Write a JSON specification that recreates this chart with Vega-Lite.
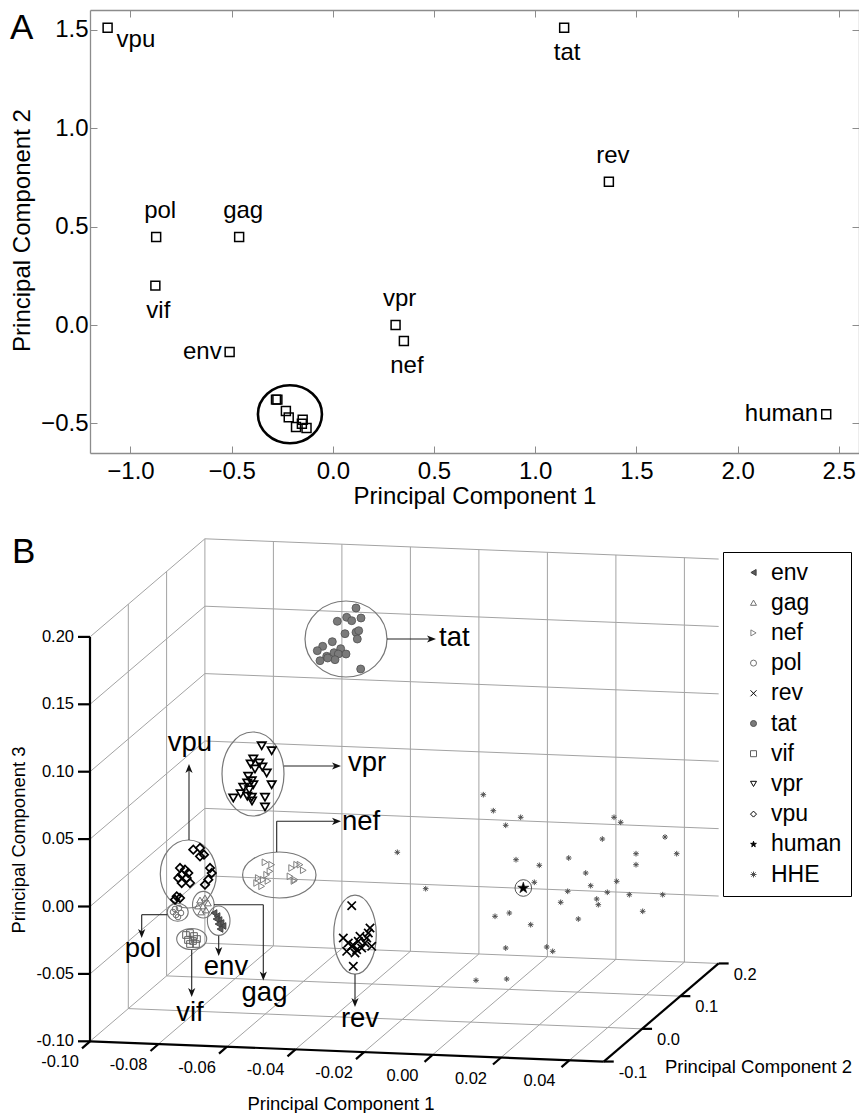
{
  "$schema": "https://vega.github.io/schema/vega-lite/v6.json",
  "padding": {"left": 10, "top": 9, "right": 0, "bottom": 0},
  "spacing": 15,
  "config": {"view": {"stroke": null}, "font": "Liberation Sans"},
  "datasets": {
    "pcaA": [
      {"gene": "vpu", "pc1": -1.113, "pc2": 1.51, "lab": "vpu", "pos": "br"},
      {"gene": "tat", "pc1": 1.143, "pc2": 1.51, "lab": "tat", "pos": "below"},
      {"gene": "rev", "pc1": 1.364, "pc2": 0.728, "lab": "rev", "pos": "above"},
      {"gene": "pol", "pc1": -0.873, "pc2": 0.447, "lab": "pol", "pos": "above"},
      {"gene": "gag", "pc1": -0.463, "pc2": 0.447, "lab": "gag", "pos": "above"},
      {"gene": "vif", "pc1": -0.877, "pc2": 0.2, "lab": "vif", "pos": "below"},
      {"gene": "env", "pc1": -0.51, "pc2": -0.137, "lab": "env", "pos": "left"},
      {"gene": "vpr", "pc1": 0.31, "pc2": 0.0, "lab": "vpr", "pos": "above"},
      {"gene": "nef", "pc1": 0.351, "pc2": -0.081, "lab": "nef", "pos": "below"},
      {"gene": "human", "pc1": 2.438, "pc2": -0.453, "lab": "human", "pos": "left"},
      {"gene": "HHE", "pc1": -0.281, "pc2": -0.379, "lab": "", "pos": "none"},
      {"gene": "HHE", "pc1": -0.274, "pc2": -0.379, "lab": "", "pos": "none"},
      {"gene": "HHE", "pc1": -0.232, "pc2": -0.437, "lab": "", "pos": "none"},
      {"gene": "HHE", "pc1": -0.218, "pc2": -0.469, "lab": "", "pos": "none"},
      {"gene": "HHE", "pc1": -0.182, "pc2": -0.518, "lab": "", "pos": "none"},
      {"gene": "HHE", "pc1": -0.149, "pc2": -0.481, "lab": "", "pos": "none"},
      {"gene": "HHE", "pc1": -0.153, "pc2": -0.501, "lab": "", "pos": "none"},
      {"gene": "HHE", "pc1": -0.13, "pc2": -0.523, "lab": "", "pos": "none"}
    ],
    "clusterA": [{"pc1": -0.212, "pc2": -0.453}],
    "panelA": [{"pc1": -1.595, "pc2": 1.453, "txt": "A"}],
    "gridB": [
      {"u": 204.9, "v": 940.2, "u2": 204.9, "v2": 535.8},
      {"u": 273.4, "v": 942.9, "u2": 273.4, "v2": 538.5},
      {"u": 341.9, "v": 945.6, "u2": 341.9, "v2": 541.2},
      {"u": 410.4, "v": 948.3, "u2": 410.4, "v2": 543.9},
      {"u": 478.9, "v": 951.0, "u2": 478.9, "v2": 546.6},
      {"u": 547.4, "v": 953.7, "u2": 547.4, "v2": 549.3},
      {"u": 615.9, "v": 956.4, "u2": 615.9, "v2": 552.0},
      {"u": 684.4, "v": 959.1, "u2": 684.4, "v2": 554.7},
      {"u": 204.9, "v": 940.2, "u2": 718.65, "v2": 960.45},
      {"u": 204.9, "v": 872.8, "u2": 718.65, "v2": 893.05},
      {"u": 204.9, "v": 805.4, "u2": 718.65, "v2": 825.65},
      {"u": 204.9, "v": 738.0, "u2": 718.65, "v2": 758.25},
      {"u": 204.9, "v": 670.6, "u2": 718.65, "v2": 690.85},
      {"u": 204.9, "v": 603.2, "u2": 718.65, "v2": 623.45},
      {"u": 204.9, "v": 535.8, "u2": 718.65, "v2": 556.05},
      {"u": 128.3, "v": 1005.6, "u2": 128.3, "v2": 601.2},
      {"u": 166.6, "v": 972.9, "u2": 166.6, "v2": 568.5},
      {"u": 90, "v": 1038.3, "u2": 204.9, "v2": 940.2},
      {"u": 90, "v": 970.9, "u2": 204.9, "v2": 872.8},
      {"u": 90, "v": 903.5, "u2": 204.9, "v2": 805.4},
      {"u": 90, "v": 836.1, "u2": 204.9, "v2": 738.0},
      {"u": 90, "v": 768.7, "u2": 204.9, "v2": 670.6},
      {"u": 90, "v": 701.3, "u2": 204.9, "v2": 603.2},
      {"u": 90, "v": 633.9, "u2": 204.9, "v2": 535.8},
      {"u": 128.3, "v": 1005.6, "u2": 642.05, "v2": 1025.85},
      {"u": 166.6, "v": 972.9, "u2": 680.35, "v2": 993.15},
      {"u": 158.5, "v": 1041.0, "u2": 273.4, "v2": 942.9},
      {"u": 227.0, "v": 1043.7, "u2": 341.9, "v2": 945.6},
      {"u": 295.5, "v": 1046.4, "u2": 410.4, "v2": 948.3},
      {"u": 364.0, "v": 1049.1, "u2": 478.9, "v2": 951.0},
      {"u": 432.5, "v": 1051.8, "u2": 547.4, "v2": 953.7},
      {"u": 501.0, "v": 1054.5, "u2": 615.9, "v2": 956.4},
      {"u": 569.5, "v": 1057.2, "u2": 684.4, "v2": 959.1}
    ],
    "axesB": [
      {"u": 90, "v": 1038.3, "u2": 90, "v2": 633.9},
      {"u": 90, "v": 1038.3, "u2": 603.75, "v2": 1058.55},
      {"u": 603.75, "v": 1058.55, "u2": 718.65, "v2": 960.45},
      {"u": 78, "v": 1038.3, "u2": 90, "v2": 1038.3},
      {"u": 78, "v": 970.9, "u2": 90, "v2": 970.9},
      {"u": 78, "v": 903.5, "u2": 90, "v2": 903.5},
      {"u": 78, "v": 836.1, "u2": 90, "v2": 836.1},
      {"u": 78, "v": 768.7, "u2": 90, "v2": 768.7},
      {"u": 78, "v": 701.3, "u2": 90, "v2": 701.3},
      {"u": 78, "v": 633.9, "u2": 90, "v2": 633.9},
      {"u": 90, "v": 1038.3, "u2": 82, "v2": 1045.3},
      {"u": 158.5, "v": 1041.0, "u2": 150.5, "v2": 1048.0},
      {"u": 227.0, "v": 1043.7, "u2": 219.0, "v2": 1050.7},
      {"u": 295.5, "v": 1046.4, "u2": 287.5, "v2": 1053.4},
      {"u": 364.0, "v": 1049.1, "u2": 356.0, "v2": 1056.1},
      {"u": 432.5, "v": 1051.8, "u2": 424.5, "v2": 1058.8},
      {"u": 501.0, "v": 1054.5, "u2": 493.0, "v2": 1061.5},
      {"u": 569.5, "v": 1057.2, "u2": 561.5, "v2": 1064.2},
      {"u": 603.75, "v": 1058.55, "u2": 613.75, "v2": 1058.55},
      {"u": 642.05, "v": 1025.85, "u2": 652.05, "v2": 1025.85},
      {"u": 680.35, "v": 993.15, "u2": 690.35, "v2": 993.15},
      {"u": 718.65, "v": 960.45, "u2": 728.65, "v2": 960.45}
    ],
    "textB": [
      {"role": "tick3", "u": 74, "v": 633.9, "txt": "0.20"},
      {"role": "tick3", "u": 74, "v": 701.3, "txt": "0.15"},
      {"role": "tick3", "u": 74, "v": 768.7, "txt": "0.10"},
      {"role": "tick3", "u": 74, "v": 836.1, "txt": "0.05"},
      {"role": "tick3", "u": 74, "v": 903.5, "txt": "0.00"},
      {"role": "tick3", "u": 74, "v": 970.9, "txt": "-0.05"},
      {"role": "tick3", "u": 74, "v": 1038.3, "txt": "-0.10"},
      {"role": "tick1", "u": 60, "v": 1059, "txt": "-0.10"},
      {"role": "tick1", "u": 128.5, "v": 1062, "txt": "-0.08"},
      {"role": "tick1", "u": 197, "v": 1064.7, "txt": "-0.06"},
      {"role": "tick1", "u": 265.5, "v": 1067.4, "txt": "-0.04"},
      {"role": "tick1", "u": 334, "v": 1070, "txt": "-0.02"},
      {"role": "tick1", "u": 402.5, "v": 1072.8, "txt": "0.00"},
      {"role": "tick1", "u": 471, "v": 1075.5, "txt": "0.02"},
      {"role": "tick1", "u": 539.5, "v": 1078.2, "txt": "0.04"},
      {"role": "tick2", "u": 618.75, "v": 1069.5, "txt": "-0.1"},
      {"role": "tick2", "u": 657, "v": 1037, "txt": "0.0"},
      {"role": "tick2", "u": 695.35, "v": 1004, "txt": "0.1"},
      {"role": "tick2", "u": 733.65, "v": 971.5, "txt": "0.2"},
      {"role": "labL", "u": 439, "v": 635, "txt": "tat"},
      {"role": "labL", "u": 348, "v": 760, "txt": "vpr"},
      {"role": "labL", "u": 342, "v": 819, "txt": "nef"},
      {"role": "labC", "u": 190, "v": 740, "txt": "vpu"},
      {"role": "labC", "u": 143, "v": 945.5, "txt": "pol"},
      {"role": "labC", "u": 264.5, "v": 989.5, "txt": "gag"},
      {"role": "labC", "u": 226, "v": 964, "txt": "env"},
      {"role": "labC", "u": 190, "v": 1010, "txt": "vif"},
      {"role": "labC", "u": 360, "v": 1015.6, "txt": "rev"},
      {"role": "titleC", "u": 341, "v": 1101, "txt": "Principal Component 1"},
      {"role": "titleL", "u": 665, "v": 1064, "txt": "Principal Component 2"},
      {"role": "titleR", "u": 19, "v": 837, "txt": "Principal Component 3"},
      {"role": "panel", "u": 12, "v": 560, "txt": "B"}
    ],
    "ellipsesB": [
      {"grp": "tat", "u": 346, "v": 636},
      {"grp": "vpr", "u": 253, "v": 771},
      {"grp": "vpu", "u": 188.3, "v": 871},
      {"grp": "nef", "u": 279.3, "v": 872},
      {"grp": "pol", "u": 177.7, "v": 909.3},
      {"grp": "gag", "u": 203.3, "v": 901.7},
      {"grp": "env", "u": 218.7, "v": 917.7},
      {"grp": "vif", "u": 191.7, "v": 936},
      {"grp": "rev", "u": 355, "v": 931.7},
      {"grp": "human", "u": 523.3, "v": 885}
    ],
    "arrowsB": [
      {"u": 387, "v": 636, "u2": 433, "v2": 636},
      {"u": 284, "v": 763, "u2": 336, "v2": 763},
      {"u": 276.7, "v": 849, "u2": 276.7, "v2": 818.3},
      {"u": 276.7, "v": 818.3, "u2": 336, "v2": 818.3},
      {"u": 189, "v": 837, "u2": 189, "v2": 766},
      {"u": 167.3, "v": 911.7, "u2": 141.7, "v2": 911.7},
      {"u": 141.7, "v": 911.7, "u2": 141.7, "v2": 931},
      {"u": 214, "v": 901.7, "u2": 263.3, "v2": 901.7},
      {"u": 263.3, "v": 901.7, "u2": 263.3, "v2": 973},
      {"u": 218.7, "v": 932.7, "u2": 218.7, "v2": 949},
      {"u": 191.7, "v": 946.7, "u2": 191.7, "v2": 990},
      {"u": 355, "v": 971.2, "u2": 355, "v2": 1000}
    ],
    "headsB": [
      {"u": 436, "v": 636, "dir": "right"},
      {"u": 341, "v": 763, "dir": "right"},
      {"u": 341, "v": 818.3, "dir": "right"},
      {"u": 189, "v": 761, "dir": "up"},
      {"u": 141.7, "v": 935, "dir": "down"},
      {"u": 263.3, "v": 977.5, "dir": "down"},
      {"u": 218.7, "v": 953, "dir": "down"},
      {"u": 191.7, "v": 994, "dir": "down"},
      {"u": 355, "v": 1004, "dir": "down"}
    ],
    "pointsB": [
      {"type": "tat", "u": 356, "v": 605}, {"type": "tat", "u": 346.7, "v": 614.3}, {"type": "tat", "u": 351.7, "v": 617.7},
      {"type": "tat", "u": 361, "v": 615}, {"type": "tat", "u": 337.3, "v": 618.3}, {"type": "tat", "u": 345, "v": 630.7},
      {"type": "tat", "u": 356, "v": 629.3}, {"type": "tat", "u": 358.7, "v": 627.7}, {"type": "tat", "u": 357.3, "v": 636},
      {"type": "tat", "u": 332.3, "v": 638.7}, {"type": "tat", "u": 322.7, "v": 643.3}, {"type": "tat", "u": 317.3, "v": 647.7},
      {"type": "tat", "u": 340.7, "v": 645.7}, {"type": "tat", "u": 334, "v": 649.7}, {"type": "tat", "u": 338.3, "v": 651},
      {"type": "tat", "u": 346, "v": 651}, {"type": "tat", "u": 326.7, "v": 653.3}, {"type": "tat", "u": 320, "v": 657.7},
      {"type": "tat", "u": 335, "v": 656.7}, {"type": "tat", "u": 327.7, "v": 655}, {"type": "tat", "u": 360.7, "v": 666},
      {"type": "vpr", "u": 261.7, "v": 742.7}, {"type": "vpr", "u": 271.7, "v": 747.7}, {"type": "vpr", "u": 253.3, "v": 756},
      {"type": "vpr", "u": 259.3, "v": 760}, {"type": "vpr", "u": 250.7, "v": 761}, {"type": "vpr", "u": 262.3, "v": 764},
      {"type": "vpr", "u": 255, "v": 766}, {"type": "vpr", "u": 266.7, "v": 770}, {"type": "vpr", "u": 248.3, "v": 773.3},
      {"type": "vpr", "u": 251.7, "v": 777.7}, {"type": "vpr", "u": 247.3, "v": 780}, {"type": "vpr", "u": 253.3, "v": 781.7},
      {"type": "vpr", "u": 271.7, "v": 781.7}, {"type": "vpr", "u": 243.3, "v": 784.3}, {"type": "vpr", "u": 249.3, "v": 786.7},
      {"type": "vpr", "u": 240.7, "v": 790.7}, {"type": "vpr", "u": 247.3, "v": 793.3}, {"type": "vpr", "u": 233.3, "v": 795},
      {"type": "vpr", "u": 251.7, "v": 794.3}, {"type": "vpr", "u": 265, "v": 794.3}, {"type": "vpr", "u": 265, "v": 804},
      {"type": "vpr", "u": 252, "v": 798},
      {"type": "vpu", "u": 193.3, "v": 846.7}, {"type": "vpu", "u": 200, "v": 845}, {"type": "vpu", "u": 204, "v": 851.7},
      {"type": "vpu", "u": 200, "v": 853.3}, {"type": "vpu", "u": 180, "v": 865}, {"type": "vpu", "u": 185, "v": 866.7},
      {"type": "vpu", "u": 188.3, "v": 870}, {"type": "vpu", "u": 181.7, "v": 871.7}, {"type": "vpu", "u": 178.3, "v": 875},
      {"type": "vpu", "u": 186.7, "v": 875}, {"type": "vpu", "u": 190, "v": 880}, {"type": "vpu", "u": 181.7, "v": 880},
      {"type": "vpu", "u": 210, "v": 865}, {"type": "vpu", "u": 211.7, "v": 870}, {"type": "vpu", "u": 208.3, "v": 876.7},
      {"type": "vpu", "u": 205, "v": 881.7}, {"type": "vpu", "u": 176.7, "v": 893.3}, {"type": "vpu", "u": 180, "v": 895},
      {"type": "vpu", "u": 175, "v": 896.7},
      {"type": "nef", "u": 265, "v": 859.3}, {"type": "nef", "u": 271.7, "v": 861.7}, {"type": "nef", "u": 258.3, "v": 875},
      {"type": "nef", "u": 263.3, "v": 876.7}, {"type": "nef", "u": 266.7, "v": 871.7}, {"type": "nef", "u": 270, "v": 868.3},
      {"type": "nef", "u": 256.7, "v": 880}, {"type": "nef", "u": 261.7, "v": 883.3}, {"type": "nef", "u": 291.7, "v": 865},
      {"type": "nef", "u": 290, "v": 873.3}, {"type": "nef", "u": 295, "v": 876.7}, {"type": "nef", "u": 296.7, "v": 861.7},
      {"type": "nef", "u": 300, "v": 861.7}, {"type": "nef", "u": 303.3, "v": 867.3}, {"type": "nef", "u": 294, "v": 878},
      {"type": "nef", "u": 268, "v": 878},
      {"type": "pol", "u": 175, "v": 906}, {"type": "pol", "u": 179, "v": 905}, {"type": "pol", "u": 181, "v": 910},
      {"type": "pol", "u": 176, "v": 912}, {"type": "pol", "u": 178, "v": 914}, {"type": "pol", "u": 173, "v": 909},
      {"type": "gag", "u": 200, "v": 897}, {"type": "gag", "u": 205, "v": 895}, {"type": "gag", "u": 203, "v": 903},
      {"type": "gag", "u": 208, "v": 900}, {"type": "gag", "u": 198, "v": 903}, {"type": "gag", "u": 206, "v": 907},
      {"type": "gag", "u": 201, "v": 909},
      {"type": "env", "u": 214, "v": 910}, {"type": "env", "u": 217, "v": 913}, {"type": "env", "u": 219, "v": 917},
      {"type": "env", "u": 221, "v": 920}, {"type": "env", "u": 223, "v": 923}, {"type": "env", "u": 218, "v": 921},
      {"type": "env", "u": 220, "v": 926}, {"type": "env", "u": 216, "v": 916},
      {"type": "vif", "u": 186, "v": 932}, {"type": "vif", "u": 190, "v": 930}, {"type": "vif", "u": 194, "v": 933},
      {"type": "vif", "u": 188, "v": 937}, {"type": "vif", "u": 193, "v": 938}, {"type": "vif", "u": 197, "v": 936},
      {"type": "vif", "u": 190, "v": 941}, {"type": "vif", "u": 196, "v": 941},
      {"type": "rev", "u": 351.7, "v": 902.7}, {"type": "rev", "u": 353.3, "v": 963.3}, {"type": "rev", "u": 370, "v": 925},
      {"type": "rev", "u": 343.3, "v": 935}, {"type": "rev", "u": 348.3, "v": 940}, {"type": "rev", "u": 360, "v": 933.3},
      {"type": "rev", "u": 366.7, "v": 935}, {"type": "rev", "u": 371.7, "v": 943.3}, {"type": "rev", "u": 346.7, "v": 948.3},
      {"type": "rev", "u": 355, "v": 950}, {"type": "rev", "u": 361.7, "v": 945}, {"type": "rev", "u": 358.3, "v": 938.3},
      {"type": "rev", "u": 351.7, "v": 943.3}, {"type": "rev", "u": 365, "v": 940}, {"type": "rev", "u": 356.7, "v": 946.7},
      {"type": "rev", "u": 368.3, "v": 930}, {"type": "rev", "u": 353, "v": 942},
      {"type": "human", "u": 523.3, "v": 885},
      {"type": "HHE", "u": 483.3, "v": 791.7}, {"type": "HHE", "u": 493.3, "v": 807.7}, {"type": "HHE", "u": 520.7, "v": 814.3},
      {"type": "HHE", "u": 505.7, "v": 822.3}, {"type": "HHE", "u": 397.3, "v": 849.3}, {"type": "HHE", "u": 516, "v": 856.7},
      {"type": "HHE", "u": 539.3, "v": 862.3}, {"type": "HHE", "u": 568.7, "v": 855}, {"type": "HHE", "u": 425.7, "v": 885.7},
      {"type": "HHE", "u": 534.3, "v": 879.3}, {"type": "HHE", "u": 567.7, "v": 888.3}, {"type": "HHE", "u": 560.7, "v": 899.3},
      {"type": "HHE", "u": 495, "v": 913.3}, {"type": "HHE", "u": 509.3, "v": 910}, {"type": "HHE", "u": 530.7, "v": 921.7},
      {"type": "HHE", "u": 578.3, "v": 916}, {"type": "HHE", "u": 505.7, "v": 945}, {"type": "HHE", "u": 546.7, "v": 944},
      {"type": "HHE", "u": 552.7, "v": 948.3}, {"type": "HHE", "u": 476, "v": 977.3}, {"type": "HHE", "u": 506.7, "v": 976},
      {"type": "HHE", "u": 614, "v": 814.3}, {"type": "HHE", "u": 620.7, "v": 819.3}, {"type": "HHE", "u": 602.3, "v": 836},
      {"type": "HHE", "u": 665, "v": 834}, {"type": "HHE", "u": 636, "v": 850.7}, {"type": "HHE", "u": 676.7, "v": 850.7},
      {"type": "HHE", "u": 636, "v": 861.7}, {"type": "HHE", "u": 585.7, "v": 870}, {"type": "HHE", "u": 590.7, "v": 882.7},
      {"type": "HHE", "u": 616.7, "v": 878.3}, {"type": "HHE", "u": 607.3, "v": 889.3}, {"type": "HHE", "u": 629.3, "v": 891.7},
      {"type": "HHE", "u": 662.7, "v": 891.7}, {"type": "HHE", "u": 596.7, "v": 896}, {"type": "HHE", "u": 598.3, "v": 901.7},
      {"type": "HHE", "u": 642.7, "v": 908.3}
    ]
  },
  "vconcat": [
    {
      "width": 769,
      "height": 443,
      "layer": [
        {
          "data": {"name": "clusterA"},
          "mark": {"type": "point", "shape": "M-1,0C-1,-0.5 -0.552,-0.906 0,-0.906C0.552,-0.906 1,-0.5 1,0C1,0.5 0.552,0.906 0,0.906C-0.552,0.906 -1,0.5 -1,0Z", "size": 4096, "filled": false, "stroke": "#000", "strokeWidth": 2.6, "opacity": 1},
          "encoding": {
            "x": {"field": "pc1", "type": "quantitative", "scale": {"domain": [-1.2, 2.6], "nice": false, "zero": false}, "axis": null},
            "y": {"field": "pc2", "type": "quantitative", "scale": {"domain": [-0.65, 1.6], "nice": false, "zero": false}, "axis": null}
          }
        },
        {
          "data": {"name": "pcaA"},
          "mark": {"type": "point", "shape": "square", "size": 80, "filled": false, "stroke": "#000", "strokeWidth": 1.5, "opacity": 1},
          "encoding": {
            "x": {"field": "pc1", "type": "quantitative", "scale": {"domain": [-1.2, 2.6], "nice": false, "zero": false},
              "axis": {"orient": "bottom", "values": [-1, -0.5, 0, 0.5, 1, 1.5, 2, 2.5], "format": ".1f", "tickSize": -7, "tickColor": "#8c8c8c", "domainColor": "#8c8c8c", "domainWidth": 1.3, "labelFontSize": 24, "labelColor": "#000", "labelPadding": 13, "labelOverlap": false, "labelFlush": false, "grid": false, "title": "Principal Component 1", "titleFontSize": 24, "titleFontWeight": "normal", "titleColor": "#000", "titleBaseline": "top", "titleY": 31}},
            "y": {"field": "pc2", "type": "quantitative", "scale": {"domain": [-0.65, 1.6], "nice": false, "zero": false},
              "axis": {"orient": "left", "values": [-0.5, 0, 0.5, 1, 1.5], "format": ".1f", "tickSize": -7, "tickColor": "#8c8c8c", "domainColor": "#8c8c8c", "domainWidth": 1.3, "labelFontSize": 24, "labelColor": "#000", "labelPadding": 9, "labelOverlap": false, "labelFlush": false, "grid": false, "title": "Principal Component 2", "titleFontSize": 24, "titleFontWeight": "normal", "titleColor": "#000", "titleAngle": 270, "titleBaseline": "middle", "titleAlign": "center", "titleX": -68, "titleY": 220}}
          }
        },
        {
          "data": {"name": "pcaA"},
          "transform": [{"filter": "datum.pos === 'above'"}],
          "mark": {"type": "text", "fontSize": 24, "color": "#000", "align": "center", "baseline": "middle", "dx": 4, "dy": -26},
          "encoding": {
            "x": {"field": "pc1", "type": "quantitative", "scale": {"domain": [-1.2, 2.6], "nice": false, "zero": false}, "axis": null},
            "y": {"field": "pc2", "type": "quantitative", "scale": {"domain": [-0.65, 1.6], "nice": false, "zero": false}, "axis": null},
            "text": {"field": "lab"}
          }
        },
        {
          "data": {"name": "pcaA"},
          "transform": [{"filter": "datum.pos === 'below'"}],
          "mark": {"type": "text", "fontSize": 24, "color": "#000", "align": "center", "baseline": "middle", "dx": 3, "dy": 25},
          "encoding": {
            "x": {"field": "pc1", "type": "quantitative", "scale": {"domain": [-1.2, 2.6], "nice": false, "zero": false}, "axis": null},
            "y": {"field": "pc2", "type": "quantitative", "scale": {"domain": [-0.65, 1.6], "nice": false, "zero": false}, "axis": null},
            "text": {"field": "lab"}
          }
        },
        {
          "data": {"name": "pcaA"},
          "transform": [{"filter": "datum.pos === 'left'"}],
          "mark": {"type": "text", "fontSize": 24, "color": "#000", "align": "right", "baseline": "middle", "dx": -8, "dy": 0},
          "encoding": {
            "x": {"field": "pc1", "type": "quantitative", "scale": {"domain": [-1.2, 2.6], "nice": false, "zero": false}, "axis": null},
            "y": {"field": "pc2", "type": "quantitative", "scale": {"domain": [-0.65, 1.6], "nice": false, "zero": false}, "axis": null},
            "text": {"field": "lab"}
          }
        },
        {
          "data": {"name": "pcaA"},
          "transform": [{"filter": "datum.pos === 'br'"}],
          "mark": {"type": "text", "fontSize": 24, "color": "#000", "align": "left", "baseline": "middle", "dx": 9, "dy": 12},
          "encoding": {
            "x": {"field": "pc1", "type": "quantitative", "scale": {"domain": [-1.2, 2.6], "nice": false, "zero": false}, "axis": null},
            "y": {"field": "pc2", "type": "quantitative", "scale": {"domain": [-0.65, 1.6], "nice": false, "zero": false}, "axis": null},
            "text": {"field": "lab"}
          }
        },
        {
          "data": {"name": "panelA"},
          "mark": {"type": "text", "fontSize": 35, "color": "#000", "align": "left", "baseline": "alphabetic"},
          "encoding": {
            "x": {"field": "pc1", "type": "quantitative", "scale": {"domain": [-1.2, 2.6], "nice": false, "zero": false},
              "axis": {"orient": "top", "values": [-1, -0.5, 0, 0.5, 1, 1.5, 2, 2.5], "labels": false, "tickSize": -7, "tickColor": "#8c8c8c", "domainColor": "#8c8c8c", "domainWidth": 1.3, "grid": false, "title": null}},
            "y": {"field": "pc2", "type": "quantitative", "scale": {"domain": [-0.65, 1.6], "nice": false, "zero": false},
              "axis": {"orient": "right", "values": [-0.5, 0, 0.5, 1, 1.5], "labels": false, "tickSize": -7, "tickColor": "#8c8c8c", "domainColor": "#8c8c8c", "domainWidth": 1.3, "grid": false, "title": null}},
            "text": {"field": "txt"}
          }
        }
      ],
      "resolve": {"axis": {"x": "independent", "y": "independent"}}
    },
    {
      "width": 769,
      "height": 593,
      "encoding": {
        "x": {"field": "u", "type": "quantitative", "scale": {"domain": [90, 859], "nice": false, "zero": false}, "axis": null},
        "y": {"field": "v", "type": "quantitative", "scale": {"domain": [520, 1113], "nice": false, "zero": false, "reverse": true}, "axis": null}
      },
      "layer": [
        {"data": {"name": "gridB"}, "mark": {"type": "rule", "color": "#a3a3a3", "strokeWidth": 1}, "encoding": {"x2": {"field": "u2"}, "y2": {"field": "v2"}}},
        {"data": {"name": "axesB"}, "mark": {"type": "rule", "color": "#000", "strokeWidth": 2.2}, "encoding": {"x2": {"field": "u2"}, "y2": {"field": "v2"}}},
        {"data": {"name": "ellipsesB"}, "transform": [{"filter": "datum.grp === 'tat'"}], "mark": {"type": "point", "opacity": 1, "filled": false, "stroke": "#777", "strokeWidth": 1.2, "size": 6724, "shape": "M-1,0C-1,-0.512 -0.552,-0.927 0,-0.927C0.552,-0.927 1,-0.512 1,0C1,0.512 0.552,0.927 0,0.927C-0.552,0.927 -1,0.512 -1,0Z"}},
        {"data": {"name": "ellipsesB"}, "transform": [{"filter": "datum.grp === 'vpr'"}], "mark": {"type": "point", "opacity": 1, "filled": false, "stroke": "#777", "strokeWidth": 1.2, "size": 7056, "shape": "M0,-1C0.408,-1 0.738,-0.552 0.738,0C0.738,0.552 0.408,1 0,1C-0.408,1 -0.738,0.552 -0.738,0C-0.738,-0.552 -0.408,-1 0,-1Z"}},
        {"data": {"name": "ellipsesB"}, "transform": [{"filter": "datum.grp === 'vpu'"}], "mark": {"type": "point", "opacity": 1, "filled": false, "stroke": "#777", "strokeWidth": 1.2, "size": 4624, "shape": "M0,-1C0.455,-1 0.824,-0.552 0.824,0C0.824,0.552 0.455,1 0,1C-0.455,1 -0.824,0.552 -0.824,0C-0.824,-0.552 -0.455,-1 0,-1Z"}},
        {"data": {"name": "ellipsesB"}, "transform": [{"filter": "datum.grp === 'nef'"}], "mark": {"type": "point", "opacity": 1, "filled": false, "stroke": "#777", "strokeWidth": 1.2, "size": 5388, "shape": "M-1,0C-1,-0.346 -0.552,-0.627 0,-0.627C0.552,-0.627 1,-0.346 1,0C1,0.346 0.552,0.627 0,0.627C-0.552,0.627 -1,0.346 -1,0Z"}},
        {"data": {"name": "ellipsesB"}, "transform": [{"filter": "datum.grp === 'pol'"}], "mark": {"type": "point", "opacity": 1, "filled": false, "stroke": "#777", "strokeWidth": 1.1, "size": 441, "shape": "M-1,0C-1,-0.473 -0.552,-0.857 0,-0.857C0.552,-0.857 1,-0.473 1,0C1,0.473 0.552,0.857 0,0.857C-0.552,0.857 -1,0.473 -1,0Z"}},
        {"data": {"name": "ellipsesB"}, "transform": [{"filter": "datum.grp === 'gag'"}], "mark": {"type": "point", "opacity": 1, "filled": false, "stroke": "#777", "strokeWidth": 1.1, "size": 708, "shape": "M0,-1C0.448,-1 0.812,-0.552 0.812,0C0.812,0.552 0.448,1 0,1C-0.448,1 -0.812,0.552 -0.812,0C-0.812,-0.552 -0.448,-1 0,-1Z"}},
        {"data": {"name": "ellipsesB"}, "transform": [{"filter": "datum.grp === 'env'"}], "mark": {"type": "point", "opacity": 1, "filled": false, "stroke": "#777", "strokeWidth": 1.1, "size": 864, "shape": "M0,-1C0.425,-1 0.769,-0.552 0.769,0C0.769,0.552 0.425,1 0,1C-0.425,1 -0.769,0.552 -0.769,0C-0.769,-0.552 -0.425,-1 0,-1Z"}},
        {"data": {"name": "ellipsesB"}, "transform": [{"filter": "datum.grp === 'vif'"}], "mark": {"type": "point", "opacity": 1, "filled": false, "stroke": "#777", "strokeWidth": 1.1, "size": 900, "shape": "M-1,0C-1,-0.387 -0.552,-0.7 0,-0.7C0.552,-0.7 1,-0.387 1,0C1,0.387 0.552,0.7 0,0.7C-0.552,0.7 -1,0.387 -1,0Z"}},
        {"data": {"name": "ellipsesB"}, "transform": [{"filter": "datum.grp === 'rev'"}], "mark": {"type": "point", "opacity": 1, "filled": false, "stroke": "#777", "strokeWidth": 1.2, "size": 6241, "shape": "M0,-1C0.298,-1 0.539,-0.552 0.539,0C0.539,0.552 0.298,1 0,1C-0.298,1 -0.539,0.552 -0.539,0C-0.539,-0.552 -0.298,-1 0,-1Z"}},
        {"data": {"name": "ellipsesB"}, "transform": [{"filter": "datum.grp === 'human'"}], "mark": {"type": "point", "opacity": 1, "filled": false, "stroke": "#555", "strokeWidth": 1, "size": 276, "shape": "circle"}},
        {"data": {"name": "arrowsB"}, "mark": {"type": "rule", "color": "#222", "strokeWidth": 1.1}, "encoding": {"x2": {"field": "u2"}, "y2": {"field": "v2"}}},
        {"data": {"name": "headsB"}, "transform": [{"filter": "datum.dir === 'up'"}], "mark": {"type": "point", "opacity": 1, "filled": true, "color": "#111", "size": 144, "angle": 0, "shape": "M0,0L-0.6,1.5L0,1.1L0.6,1.5Z"}},
        {"data": {"name": "headsB"}, "transform": [{"filter": "datum.dir === 'right'"}], "mark": {"type": "point", "opacity": 1, "filled": true, "color": "#111", "size": 144, "angle": 90, "shape": "M0,0L-0.6,1.5L0,1.1L0.6,1.5Z"}},
        {"data": {"name": "headsB"}, "transform": [{"filter": "datum.dir === 'down'"}], "mark": {"type": "point", "opacity": 1, "filled": true, "color": "#111", "size": 144, "angle": 180, "shape": "M0,0L-0.6,1.5L0,1.1L0.6,1.5Z"}},
        {
          "data": {"name": "pointsB"},
          "encoding": {
            "shape": {"field": "type", "type": "nominal",
              "scale": {"domain": ["env", "gag", "nef", "pol", "rev", "tat", "vif", "vpr", "vpu", "human", "HHE"],
                "range": ["triangle-left", "triangle-up", "triangle-right", "circle", "M-1,-1L1,1M-1,1L1,-1", "circle", "square", "triangle-down", "diamond", "M0,-1L0.224,-0.307L0.951,-0.309L0.361,0.117L0.588,0.809L0,0.38L-0.588,0.809L-0.361,0.117L-0.951,-0.309L-0.224,-0.307Z", "M-1,0L1,0M0,-1L0,1M-0.7,-0.7L0.7,0.7M-0.7,0.7L0.7,-0.7"]},
              "legend": {"title": null, "orient": "none", "legendX": 633, "legendY": 542, "labelFontSize": 23, "labelFont": "Liberation Sans", "labelColor": "#000", "rowPadding": 6.2, "padding": 9, "symbolOffset": 10, "labelOffset": 6, "strokeColor": "#000", "fillColor": "#fff", "symbolSize": 36, "symbolStrokeWidth": 1, "encode": {"legend": {"update": {"strokeWidth": {"value": 2}}}}}},
            "fill": {"field": "type", "type": "nominal",
              "scale": {"domain": ["env", "gag", "nef", "pol", "rev", "tat", "vif", "vpr", "vpu", "human", "HHE"],
                "range": ["#5a5a5a", "transparent", "transparent", "transparent", "transparent", "#7a7a7a", "transparent", "transparent", "transparent", "#000000", "transparent"]},
              "legend": {"title": null, "orient": "none", "legendX": 633, "legendY": 542, "labelFontSize": 23, "labelFont": "Liberation Sans", "labelColor": "#000", "rowPadding": 6.2, "padding": 9, "symbolOffset": 10, "labelOffset": 6, "strokeColor": "#000", "fillColor": "#fff", "symbolSize": 36, "symbolStrokeWidth": 1, "encode": {"legend": {"update": {"strokeWidth": {"value": 2}}}}}},
            "stroke": {"field": "type", "type": "nominal",
              "scale": {"domain": ["env", "gag", "nef", "pol", "rev", "tat", "vif", "vpr", "vpu", "human", "HHE"],
                "range": ["#404040", "#707070", "#808080", "#707070", "#000000", "#505050", "#606060", "#000000", "#000000", "#000000", "#505050"]},
              "legend": {"title": null, "orient": "none", "legendX": 633, "legendY": 542, "labelFontSize": 23, "labelFont": "Liberation Sans", "labelColor": "#000", "rowPadding": 6.2, "padding": 9, "symbolOffset": 10, "labelOffset": 6, "strokeColor": "#000", "fillColor": "#fff", "symbolSize": 36, "symbolStrokeWidth": 1, "encode": {"legend": {"update": {"strokeWidth": {"value": 2}}}}}}
          },
          "layer": [
            {"transform": [{"filter": {"field": "type", "oneOf": ["HHE", "pol"]}}], "mark": {"type": "point", "opacity": 1, "size": 32, "strokeWidth": 1}},
            {"transform": [{"filter": {"field": "type", "oneOf": ["nef", "gag", "env", "vif"]}}], "mark": {"type": "point", "opacity": 1, "size": 44, "strokeWidth": 1}},
            {"transform": [{"filter": {"field": "type", "equal": "tat"}}], "mark": {"type": "point", "opacity": 1, "size": 64, "strokeWidth": 0.8}},
            {"transform": [{"filter": {"field": "type", "oneOf": ["vpr", "vpu", "rev"]}}], "mark": {"type": "point", "opacity": 1, "size": 70, "strokeWidth": 1.7}},
            {"transform": [{"filter": {"field": "type", "equal": "human"}}], "mark": {"type": "point", "opacity": 1, "size": 140, "strokeWidth": 0.5}}
          ]
        },
        {"data": {"name": "textB"}, "transform": [{"filter": "datum.role === 'tick3'"}], "mark": {"type": "text", "align": "right", "baseline": "middle", "fontSize": 16.5, "color": "#000"}, "encoding": {"text": {"field": "txt"}}},
        {"data": {"name": "textB"}, "transform": [{"filter": "datum.role === 'tick1'"}], "mark": {"type": "text", "align": "center", "baseline": "middle", "fontSize": 16.5, "color": "#000"}, "encoding": {"text": {"field": "txt"}}},
        {"data": {"name": "textB"}, "transform": [{"filter": "datum.role === 'tick2'"}], "mark": {"type": "text", "align": "left", "baseline": "middle", "fontSize": 16.5, "color": "#000"}, "encoding": {"text": {"field": "txt"}}},
        {"data": {"name": "textB"}, "transform": [{"filter": "datum.role === 'labL'"}], "mark": {"type": "text", "align": "left", "baseline": "middle", "fontSize": 27.5, "color": "#000"}, "encoding": {"text": {"field": "txt"}}},
        {"data": {"name": "textB"}, "transform": [{"filter": "datum.role === 'labC'"}], "mark": {"type": "text", "align": "center", "baseline": "middle", "fontSize": 27.5, "color": "#000"}, "encoding": {"text": {"field": "txt"}}},
        {"data": {"name": "textB"}, "transform": [{"filter": "datum.role === 'titleC'"}], "mark": {"type": "text", "align": "center", "baseline": "middle", "fontSize": 18.5, "color": "#000"}, "encoding": {"text": {"field": "txt"}}},
        {"data": {"name": "textB"}, "transform": [{"filter": "datum.role === 'titleL'"}], "mark": {"type": "text", "align": "left", "baseline": "middle", "fontSize": 18.5, "color": "#000"}, "encoding": {"text": {"field": "txt"}}},
        {"data": {"name": "textB"}, "transform": [{"filter": "datum.role === 'titleR'"}], "mark": {"type": "text", "align": "center", "baseline": "middle", "fontSize": 18.5, "color": "#000", "angle": 270}, "encoding": {"text": {"field": "txt"}}},
        {"data": {"name": "textB"}, "transform": [{"filter": "datum.role === 'panel'"}], "mark": {"type": "text", "align": "left", "baseline": "alphabetic", "fontSize": 35, "color": "#000"}, "encoding": {"text": {"field": "txt"}}}
      ]
    }
  ]
}
